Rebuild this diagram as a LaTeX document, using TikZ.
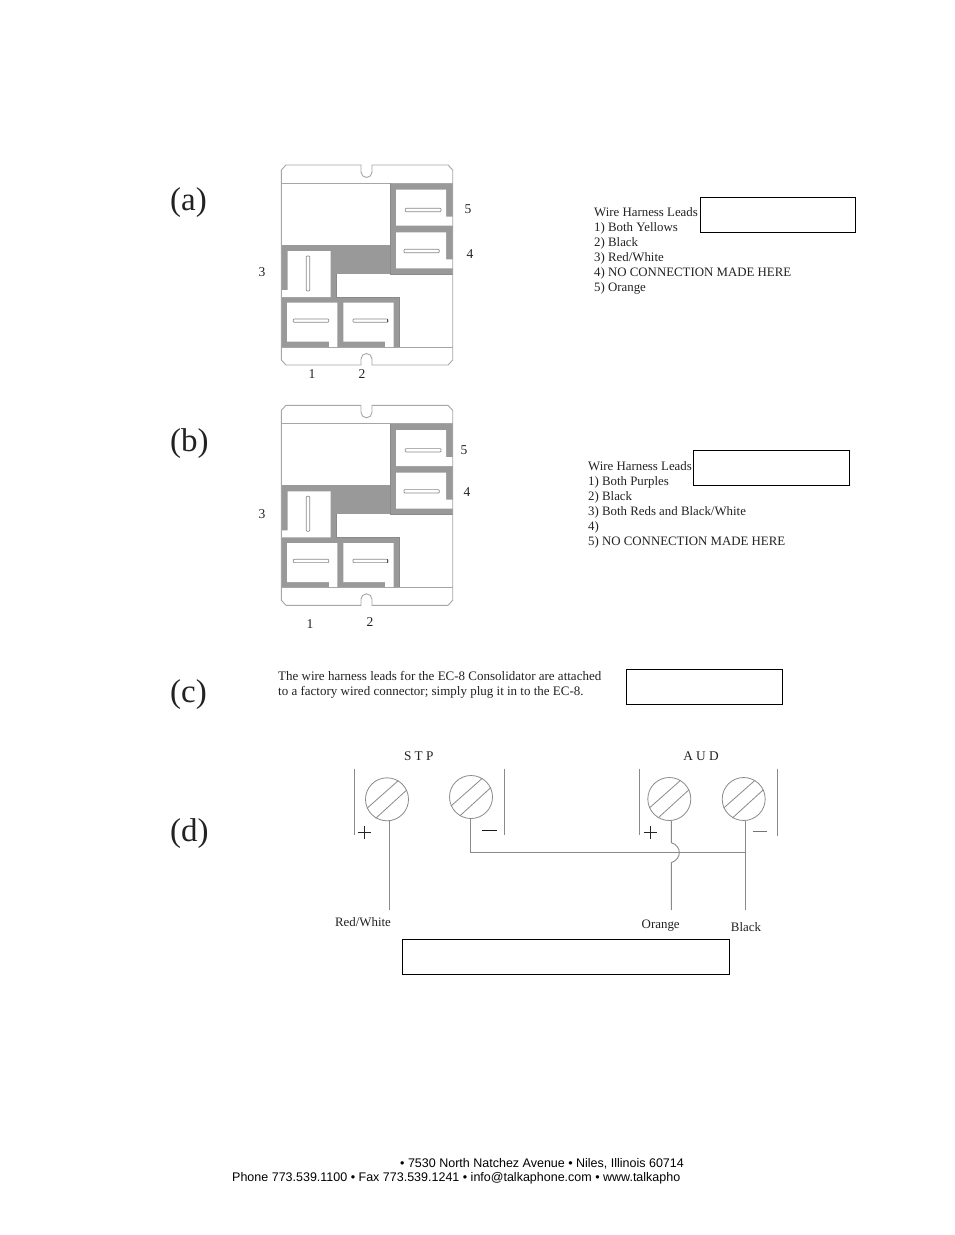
\documentclass[tikz,border=0pt]{standalone}
\usepackage{fontspec}
\setmainfont{Liberation Serif}
\newfontfamily\footfont{Liberation Sans}
\definecolor{blockgray}{HTML}{999999}
\definecolor{linegray}{HTML}{8A8A8A}
\definecolor{panelline}{HTML}{A6A6A6}
\definecolor{textgray}{HTML}{222222}
\tikzset{
  big/.style={font=\fontsize{33}{33}\selectfont,text=textgray,inner sep=0pt,anchor=base west},
  body/.style={font=\fontsize{12.85}{15}\selectfont,text=textgray,inner sep=0pt,anchor=base west},
  num/.style={font=\fontsize{13.5}{15}\selectfont,text=textgray,inner sep=0pt},
  dlabel/.style={font=\fontsize{12.9}{14}\selectfont,text=textgray,inner sep=0pt},
  foot/.style={font=\footfont\fontsize{12.5}{15}\selectfont,text=black,inner sep=0pt,anchor=base west},
  hidebox/.style={draw=black,line width=1.3pt,fill=white},
  thin gray/.style={draw=linegray,line width=0.8pt},
  panel line/.style={draw=panelline,line width=0.9pt},
  slotbar/.style={draw=linegray,line width=0.7pt,fill=white,rounded corners=0.8pt},
  screw/.style={circle,draw=linegray,line width=0.8pt,minimum size=43pt,inner sep=0pt},
  wire/.style={draw=linegray,line width=0.9pt},
}
\newcommand{\panelshape}{%
  \fill[blockgray] (390.3,183.3) rectangle (452.7,274);
  \fill[blockgray] (281.3,244.7) rectangle (390.3,274);
  \fill[blockgray] (281.3,244.7) rectangle (336,347);
  \fill[blockgray] (281.3,297) rectangle (399.3,347);
  % white cells
  \fill[white] (396,189.7) -- (446,189.7) -- (446,216.7) -- (453.5,216.7) -- (453.5,225.7) -- (396,225.7) -- cycle;
  \fill[white] (396,232.3) -- (446,232.3) -- (446,259.3) -- (453.5,259.3) -- (453.5,268.3) -- (396,268.3) -- cycle;
  \fill[white] (287.7,251) -- (330.7,251) -- (330.7,297) -- (280.5,297) -- (280.5,290) -- (287.7,290) -- cycle;
  \fill[white] (287,302.7) -- (337.3,302.7) -- (337.3,347) -- (329,347) -- (329,341.7) -- (287,341.7) -- cycle;
  \fill[white] (343.3,302.7) -- (393.7,302.7) -- (393.7,347) -- (385,347) -- (385,341.7) -- (343.3,341.7) -- cycle;
  % seams
  \draw[panel line] (281.3,183.3) -- (452.7,183.3);
  \draw[panel line] (281.3,347) -- (452.7,347);
  \draw[thin gray] (390.3,183.3) -- (390.3,274) -- (452.7,274);
  \draw[thin gray] (336,274) -- (336,297) -- (399.3,297) -- (399.3,347);
  % outer contour, chamfered corners and notches
  \draw[panel line] (361,172) -- (361,165) -- (286,165) -- (281.3,170) -- (281.3,360) -- (286,365) -- (361,365) -- (361,359);
  \draw[panel line] (372,172) -- (372,165) -- (448,165) -- (452.7,170) -- (452.7,360) -- (448,365) -- (372,365) -- (372,359);
  \draw[panel line] (361,172) arc[start angle=180,end angle=0,radius=5.5];
  \draw[panel line] (361,359) arc[start angle=180,end angle=360,radius=5.5];
  % slots
  \draw[slotbar] (405.3,208.3) rectangle (441,211.7);
  \draw[slotbar] (404,249.3) rectangle (439.3,252.7);
  \draw[slotbar] (306.3,256) rectangle (309.7,291);
  \draw[slotbar] (293.3,319) rectangle (328.7,322.3);
  \draw[slotbar] (353,319) rectangle (388,322.3);
  \fill[black!70] (387,319) rectangle (388,322.3);
}
\newcommand{\screwslash}[1]{%
  \draw[thin gray] ([shift={(-20,9)}]#1.center) -- ([shift={(11.3,-18.7)}]#1.center);
  \draw[thin gray] ([shift={(-11.3,19)}]#1.center) -- ([shift={(19.7,-9.3)}]#1.center);
}
\begin{document}
\begin{tikzpicture}[x=1pt,y=-1pt]
\useasboundingbox (0,0) rectangle (954,1235);
\fill[white] (0,0) rectangle (954,1235);

% panel labels
\node[big] (la) at (170,210) {(a)};
\node[big] (lb) at (170,451) {(b)};
\node[big] (lc) at (170,702) {(c)};
\node[big] (ld) at (170,841) {(d)};

% panel a
\begin{scope}
  \panelshape
\end{scope}
\node[num] (a5) at (468,209) {5};
\node[num] (a4) at (470,254) {4};
\node[num] (a3) at (262,272) {3};
\node[num] (a1) at (312,374) {1};
\node[num] (a2) at (362,374) {2};
\node[body,align=left,anchor=north west] (ta) at (594,207.5) {Wire Harness Leads\\1) Both Yellows\\2) Black\\3) Red/White\\4) NO CONNECTION MADE HERE\\5) Orange};
\node[hidebox,minimum width=155pt,minimum height=35pt,anchor=north west,inner sep=0pt] (ba) at (700,197) {};

% panel b
\begin{scope}[shift={(0,240.3)}]
  \panelshape
\end{scope}
\node[num] (b5) at (464,450) {5};
\node[num] (b4) at (467,492) {4};
\node[num] (b3) at (262,514) {3};
\node[num] (b1) at (310,624) {1};
\node[num] (b2) at (370,622) {2};
\node[body,align=left,anchor=north west] (tb) at (588,461.5) {Wire Harness Leads\\1) Both Purples\\2) Black\\3) Both Reds and Black/White\\4)\\5) NO CONNECTION MADE HERE};
\node[hidebox,minimum width=156pt,minimum height=35pt,anchor=north west,inner sep=0pt] (bb) at (693,450) {};

% panel c
\node[body,font=\fontsize{13}{15}\selectfont,align=left,anchor=north west] (tc) at (278,671.5) {The wire harness leads for the EC-8 Consolidator are attached\\to a factory wired connector; simply plug it in to the EC-8.};
\node[hidebox,minimum width=156pt,minimum height=35pt,anchor=north west,inner sep=0pt] (bc) at (626,669) {};

% panel d
\node[screw] (c1) at (387,799.3) {};
\node[screw] (c2) at (471,797) {};
\node[screw] (c3) at (669.3,799) {};
\node[screw] (c4) at (743.7,799) {};
\screwslash{c1}\screwslash{c2}\screwslash{c3}\screwslash{c4}
\draw[thin gray] (354.3,768.7) -- (354.3,834.7);
\draw[thin gray] (504.3,768.7) -- (504.3,834.7);
\draw[thin gray] (639.3,768.7) -- (639.3,834.7);
\draw[thin gray] (777.3,768.7) -- (777.3,836);
\draw[black!85,line width=1pt] (357.8,832.7) -- (370.8,832.7) (364.3,826.2) -- (364.3,839.2);
\draw[black!90,line width=1.4pt] (482.3,830.7) -- (496.7,830.7);
\draw[black!85,line width=1pt] (643.5,832) -- (656.5,832) (650,825.5) -- (650,838.5);
\draw[black!55,line width=1.5pt] (753.3,831.7) -- (767.3,831.7);

\coordinate (e1) at (389.3,910);
\coordinate (e3) at (671.3,910);
\coordinate (e4) at (745.7,910);
\coordinate (j4) at (745.7,852.3);
\coordinate (h3a) at (671.3,842.7);
\coordinate (h3b) at (671.3,862.7);
\draw[wire] (c1.south -| e1) -- (e1);
\draw[wire] (470.3,818.5) |- (j4);
\draw[wire] (671.3,820.5) -- (h3a) .. controls (682,846) and (682,859) .. (h3b) -- (e3);
\draw[wire] (745.7,820.5) -- (e4);

\node[dlabel,font=\fontsize{13.3}{14}\selectfont] (stp) at (418.8,756) {S T P};
\node[dlabel,font=\fontsize{13.3}{14}\selectfont] (aud) at (701,756) {A U D};
\node[dlabel] (w1) at (363,921.7) {Red/White};
\node[dlabel] (w3) at (660.7,925.7) {Orange};
\node[dlabel] (w4) at (746,926.7) {Black};
\node[hidebox,minimum width=327pt,minimum height=35pt,anchor=north west,inner sep=0pt] (bd) at (402,939) {};

% footer
\node[foot] (f1) at (400,1167) {• 7530 North Natchez Avenue • Niles, Illinois 60714};
\node[foot] (f2) at (232,1181) {Phone 773.539.1100 • Fax 773.539.1241 • info@talkaphone.com • www.talkapho};
\end{tikzpicture}
\end{document}
